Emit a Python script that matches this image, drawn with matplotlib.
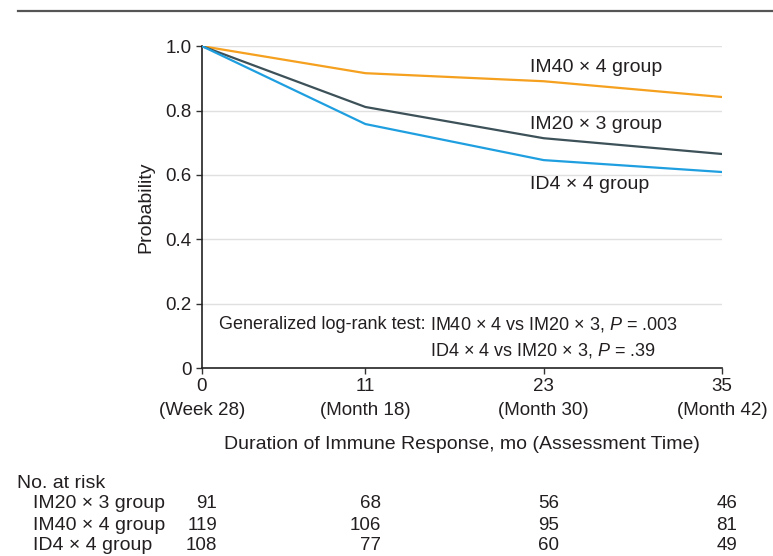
import matplotlib
matplotlib.use("Agg")
import matplotlib.pyplot as plt
import matplotlib.transforms as mtransforms
from matplotlib.lines import Line2D

plt.rcParams['font.family'] = ['Liberation Sans', 'DejaVu Sans']
plt.rcParams['mathtext.fontset'] = 'custom'
plt.rcParams['mathtext.rm'] = 'Liberation Sans'
plt.rcParams['mathtext.it'] = 'Liberation Sans:italic'

# data
months = [0, 11, 23, 35]
tick_labels = ['0\n(Week 28)', '11\n(Month 18)', '23\n(Month 30)', '35\n(Month 42)']
im40 = [1.0, 0.916, 0.891, 0.842]
im20 = [1.0, 0.811, 0.714, 0.665]
id4 = [1.0, 0.758, 0.646, 0.609]

groups = ['IM20 × 3 group', 'IM40 × 4 group', 'ID4 × 4 group']
at_risk = {
    'IM20 × 3 group': [91, 68, 56, 46],
    'IM40 × 4 group': [119, 106, 95, 81],
    'ID4 × 4 group': [108, 77, 60, 49],
}

txt = '#231f20'
c_im40 = '#f5a01e'
c_im20 = '#3d5159'
c_id4 = '#1f9fe0'

fig = plt.figure(figsize=(7.73, 5.56), dpi=100)
ax = fig.add_axes([0.2613, 0.338, 0.6727, 0.579])

for yv in [0.2, 0.4, 0.6, 0.8, 1.0]:
    ax.axhline(yv, color='#e0e0e0', lw=1, zorder=0)

ax.plot(months, im40, color=c_im40, lw=1.6, zorder=3)
ax.plot(months, im20, color=c_im20, lw=1.6, zorder=3)
ax.plot(months, id4, color=c_id4, lw=1.6, zorder=3)

ax.set_xlim(0, 35)
ax.set_ylim(0, 1.0)
ax.set_xticks(months)
ax.set_xticklabels(tick_labels, linespacing=1.5)
ax.set_yticks([0, 0.2, 0.4, 0.6, 0.8, 1.0])
ax.set_yticklabels(['0', '0.2', '0.4', '0.6', '0.8', '1.0'])
ax.tick_params(direction='out', length=4, width=1, colors='#333333',
               labelcolor=txt, labelsize=13.5)
for s in ['top', 'right']:
    ax.spines[s].set_visible(False)
for s in ['left', 'bottom']:
    ax.spines[s].set_color('#222222')
    ax.spines[s].set_linewidth(1.2)

ax.set_ylabel('Probability', fontsize=14, color=txt, labelpad=8)
ax.set_xlabel('Duration of Immune Response, mo (Assessment Time)',
              fontsize=14, color=txt, labelpad=12)

ax.text(22.1, 0.935, 'IM40 × 4 group', fontsize=14, color=txt, va='center')
ax.text(22.1, 0.758, 'IM20 × 3 group', fontsize=14, color=txt, va='center')
ax.text(22.1, 0.571, 'ID4 × 4 group', fontsize=14, color=txt, va='center')

xa = 15.07
ax.text(xa, 0.135, 'Generalized log-rank test:', fontsize=13, color=txt,
        ha='right', va='center')
off = mtransforms.offset_copy(ax.transData, fig=fig, x=3, y=0, units='points')
ax.text(xa, 0.135, 'IM40 × 4 vs IM20 × 3, $P$ = .003', fontsize=13,
        color=txt, ha='left', va='center', transform=off)
ax.text(xa, 0.055, 'ID4 × 4 vs IM20 × 3, $P$ = .39', fontsize=13,
        color=txt, ha='left', va='center', transform=off)

# top rule
fig.add_artist(Line2D([0.023, 1.0], [0.980, 0.980], transform=fig.transFigure,
                      color='#555555', lw=1.6))

# number at risk table
row_y = [1 - 504 / 556, 1 - 525 / 556, 1 - 546 / 556]
fig.text(17 / 773, 1 - 483 / 556, 'No. at risk', fontsize=14, color=txt,
         va='center')
blend = mtransforms.blended_transform_factory(ax.transData, fig.transFigure)
num_tr = mtransforms.offset_copy(blend, fig=fig, x=11, y=0, units='points')
for g, yy in zip(groups, row_y):
    fig.text(33 / 773, yy, g, fontsize=14, color=txt, va='center')
    for m, n in zip(months, at_risk[g]):
        fig.text(m, yy, str(n), fontsize=13.5, color=txt, ha='right',
                 va='center', transform=num_tr)

fig.savefig('out.png', dpi=100)
